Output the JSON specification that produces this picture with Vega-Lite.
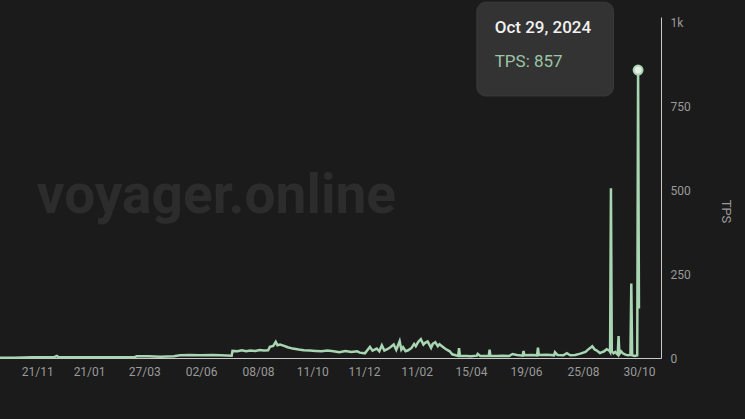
{
  "$schema": "https://vega.github.io/schema/vega-lite/v6.json",
  "width": 661,
  "height": 341,
  "autosize": {"type": "none"},
  "padding": {"left": 0, "top": 17, "right": 84, "bottom": 61},
  "background": "#1b1b1b",
  "config": {"view": {"stroke": null}, "font": "Roboto"},
  "datasets": {
    "series": [
      {"date": "2022-10-08", "tps": 1},
      {"date": "2022-10-25", "tps": 1},
      {"date": "2022-11-15", "tps": 2},
      {"date": "2022-12-10", "tps": 2},
      {"date": "2022-12-14", "tps": 6},
      {"date": "2022-12-16", "tps": 2},
      {"date": "2023-01-15", "tps": 2},
      {"date": "2023-02-15", "tps": 2},
      {"date": "2023-03-15", "tps": 2},
      {"date": "2023-03-18", "tps": 5},
      {"date": "2023-04-01", "tps": 5},
      {"date": "2023-04-15", "tps": 4},
      {"date": "2023-05-01", "tps": 5},
      {"date": "2023-05-08", "tps": 8},
      {"date": "2023-05-20", "tps": 9},
      {"date": "2023-06-01", "tps": 8},
      {"date": "2023-06-15", "tps": 9},
      {"date": "2023-06-25", "tps": 8},
      {"date": "2023-07-08", "tps": 7},
      {"date": "2023-07-09", "tps": 21},
      {"date": "2023-07-15", "tps": 20},
      {"date": "2023-07-20", "tps": 23},
      {"date": "2023-07-25", "tps": 20},
      {"date": "2023-07-30", "tps": 22},
      {"date": "2023-08-05", "tps": 21},
      {"date": "2023-08-10", "tps": 24},
      {"date": "2023-08-15", "tps": 22},
      {"date": "2023-08-20", "tps": 23},
      {"date": "2023-08-22", "tps": 33},
      {"date": "2023-08-26", "tps": 36},
      {"date": "2023-08-29", "tps": 48},
      {"date": "2023-08-31", "tps": 38},
      {"date": "2023-09-03", "tps": 40},
      {"date": "2023-09-07", "tps": 37},
      {"date": "2023-09-12", "tps": 32},
      {"date": "2023-09-18", "tps": 28},
      {"date": "2023-09-25", "tps": 25},
      {"date": "2023-10-01", "tps": 23},
      {"date": "2023-10-08", "tps": 22},
      {"date": "2023-10-15", "tps": 21},
      {"date": "2023-10-22", "tps": 20},
      {"date": "2023-10-29", "tps": 22},
      {"date": "2023-11-05", "tps": 20},
      {"date": "2023-11-12", "tps": 17},
      {"date": "2023-11-19", "tps": 21},
      {"date": "2023-11-26", "tps": 18},
      {"date": "2023-12-03", "tps": 20},
      {"date": "2023-12-06", "tps": 16},
      {"date": "2023-12-12", "tps": 14},
      {"date": "2023-12-18", "tps": 33},
      {"date": "2023-12-21", "tps": 22},
      {"date": "2023-12-26", "tps": 28},
      {"date": "2023-12-29", "tps": 20},
      {"date": "2024-01-01", "tps": 38},
      {"date": "2024-01-04", "tps": 22},
      {"date": "2024-01-08", "tps": 27},
      {"date": "2024-01-11", "tps": 32},
      {"date": "2024-01-15", "tps": 40},
      {"date": "2024-01-18", "tps": 24},
      {"date": "2024-01-22", "tps": 50},
      {"date": "2024-01-24", "tps": 25},
      {"date": "2024-01-26", "tps": 32},
      {"date": "2024-01-29", "tps": 20},
      {"date": "2024-02-01", "tps": 23},
      {"date": "2024-02-05", "tps": 30},
      {"date": "2024-02-08", "tps": 42},
      {"date": "2024-02-10", "tps": 35},
      {"date": "2024-02-13", "tps": 48},
      {"date": "2024-02-16", "tps": 56},
      {"date": "2024-02-19", "tps": 40},
      {"date": "2024-02-21", "tps": 45},
      {"date": "2024-02-24", "tps": 49},
      {"date": "2024-02-28", "tps": 30},
      {"date": "2024-03-01", "tps": 42},
      {"date": "2024-03-04", "tps": 47},
      {"date": "2024-03-07", "tps": 35},
      {"date": "2024-03-09", "tps": 41},
      {"date": "2024-03-13", "tps": 33},
      {"date": "2024-03-15", "tps": 29},
      {"date": "2024-03-18", "tps": 24},
      {"date": "2024-03-21", "tps": 20},
      {"date": "2024-03-24", "tps": 11},
      {"date": "2024-03-28", "tps": 8},
      {"date": "2024-03-31", "tps": 6},
      {"date": "2024-04-01", "tps": 29},
      {"date": "2024-04-02", "tps": 6},
      {"date": "2024-04-10", "tps": 6},
      {"date": "2024-04-15", "tps": 5},
      {"date": "2024-04-22", "tps": 7},
      {"date": "2024-04-23", "tps": 12},
      {"date": "2024-04-26", "tps": 6},
      {"date": "2024-05-06", "tps": 6},
      {"date": "2024-05-07", "tps": 25},
      {"date": "2024-05-08", "tps": 6},
      {"date": "2024-05-15", "tps": 6},
      {"date": "2024-05-22", "tps": 7},
      {"date": "2024-05-30", "tps": 6},
      {"date": "2024-06-03", "tps": 12},
      {"date": "2024-06-08", "tps": 9},
      {"date": "2024-06-15", "tps": 7},
      {"date": "2024-06-16", "tps": 21},
      {"date": "2024-06-17", "tps": 8},
      {"date": "2024-06-25", "tps": 9},
      {"date": "2024-07-02", "tps": 8},
      {"date": "2024-07-03", "tps": 31},
      {"date": "2024-07-04", "tps": 9},
      {"date": "2024-07-14", "tps": 10},
      {"date": "2024-07-22", "tps": 8},
      {"date": "2024-07-23", "tps": 17},
      {"date": "2024-07-26", "tps": 9},
      {"date": "2024-08-02", "tps": 8},
      {"date": "2024-08-06", "tps": 14},
      {"date": "2024-08-10", "tps": 8},
      {"date": "2024-08-16", "tps": 9},
      {"date": "2024-08-22", "tps": 13},
      {"date": "2024-08-28", "tps": 18},
      {"date": "2024-08-31", "tps": 25},
      {"date": "2024-09-05", "tps": 35},
      {"date": "2024-09-08", "tps": 25},
      {"date": "2024-09-10", "tps": 23},
      {"date": "2024-09-14", "tps": 15},
      {"date": "2024-09-16", "tps": 17},
      {"date": "2024-09-19", "tps": 20},
      {"date": "2024-09-22", "tps": 26},
      {"date": "2024-09-25", "tps": 22},
      {"date": "2024-09-26", "tps": 18},
      {"date": "2024-09-27", "tps": 505},
      {"date": "2024-09-28", "tps": 20},
      {"date": "2024-09-30", "tps": 14},
      {"date": "2024-10-02", "tps": 18},
      {"date": "2024-10-04", "tps": 12},
      {"date": "2024-10-05", "tps": 10},
      {"date": "2024-10-06", "tps": 65},
      {"date": "2024-10-07", "tps": 12},
      {"date": "2024-10-09", "tps": 20},
      {"date": "2024-10-11", "tps": 14},
      {"date": "2024-10-14", "tps": 10},
      {"date": "2024-10-17", "tps": 8},
      {"date": "2024-10-20", "tps": 9},
      {"date": "2024-10-21", "tps": 222},
      {"date": "2024-10-22", "tps": 8},
      {"date": "2024-10-25", "tps": 6},
      {"date": "2024-10-28", "tps": 8},
      {"date": "2024-10-29", "tps": 857},
      {"date": "2024-10-30", "tps": 147}
    ]
  },
  "layer": [
    {
      "data": {"name": "series"},
      "mark": {"type": "line", "color": "#a8d5b2", "strokeWidth": 2.5, "clip": false},
      "encoding": {
        "x": {
          "field": "date", "type": "temporal",
          "scale": {"type": "utc", "domain": [{"year": 2022, "month": 10, "date": 8, "utc": true}, {"year": 2024, "month": 11, "date": 25, "utc": true}]},
          "axis": {
            "title": null, "grid": false, "ticks": false, "format": "%d/%m",
            "values": [
              {"year": 2022, "month": 11, "date": 21, "utc": true},
              {"year": 2023, "month": 1, "date": 21, "utc": true},
              {"year": 2023, "month": 3, "date": 27, "utc": true},
              {"year": 2023, "month": 6, "date": 2, "utc": true},
              {"year": 2023, "month": 8, "date": 8, "utc": true},
              {"year": 2023, "month": 10, "date": 11, "utc": true},
              {"year": 2023, "month": 12, "date": 11, "utc": true},
              {"year": 2024, "month": 2, "date": 11, "utc": true},
              {"year": 2024, "month": 4, "date": 15, "utc": true},
              {"year": 2024, "month": 6, "date": 19, "utc": true},
              {"year": 2024, "month": 8, "date": 25, "utc": true},
              {"year": 2024, "month": 10, "date": 30, "utc": true}
            ],
            "domainColor": "#c9c9c9", "domainWidth": 1,
            "labelColor": "#9a9a9a", "labelFontSize": 12, "labelPadding": 8, "labelFont": "Roboto"
          }
        },
        "y": {
          "field": "tps", "type": "quantitative",
          "scale": {"domain": [0, 1015], "nice": false},
          "axis": {
            "orient": "right", "title": "TPS", "grid": false, "ticks": false, "format": "d",
            "labelExpr": "datum.value >= 1000 ? '1k' : datum.label",
            "values": [0, 250, 500, 750, 1000],
            "domainColor": "#c9c9c9", "domainWidth": 1,
            "labelColor": "#9a9a9a", "labelFontSize": 12, "labelPadding": 9, "labelFont": "Roboto",
            "titleColor": "#9a9a9a", "titleFontSize": 13, "titleFontWeight": "normal", "titleFont": "Roboto",
            "titleAngle": 90, "titleX": 64, "titleY": 194, "titleAlign": "center", "titleBaseline": "middle"
          }
        }
      }
    },
    {
      "data": {"values": [{"label": "voyager.online"}]},
      "mark": {"type": "text", "font": "Roboto", "fontSize": 55, "fontWeight": "bold", "color": "#2c2c2c", "align": "center", "baseline": "alphabetic"},
      "encoding": {
        "x": {"datum": {"year": 2023, "month": 6, "date": 20, "utc": true}, "type": "temporal", "scale": {"type": "utc"}},
        "y": {"datum": 431, "type": "quantitative"},
        "text": {"field": "label"}
      }
    },
    {
      "data": {"name": "series"},
      "transform": [{"filter": "datum.tps === 857"}],
      "mark": {"type": "point", "filled": true, "size": 80, "fill": "#e8ece8", "stroke": "#a8d5b2", "strokeWidth": 2, "opacity": 1},
      "encoding": {
        "x": {"field": "date", "type": "temporal", "scale": {"type": "utc"}},
        "y": {"field": "tps", "type": "quantitative"}
      }
    },
    {
      "data": {"values": [{"box": "tooltip"}]},
      "mark": {"type": "rect", "fill": "#333333", "stroke": "#3a3a3a", "strokeWidth": 1, "cornerRadius": 9, "clip": false},
      "encoding": {
        "x": {"datum": {"year": 2024, "month": 4, "date": 22, "utc": true}, "type": "temporal", "scale": {"type": "utc"}},
        "x2": {"datum": {"year": 2024, "month": 9, "date": 30, "utc": true}},
        "y": {"datum": 1059, "type": "quantitative"},
        "y2": {"datum": 780}
      }
    },
    {
      "data": {"values": [{"label": "Oct 29, 2024"}]},
      "mark": {"type": "text", "font": "Roboto", "fontSize": 17, "fontWeight": 500, "color": "#f2f2f2", "align": "left", "baseline": "middle"},
      "encoding": {
        "x": {"datum": {"year": 2024, "month": 5, "date": 13, "utc": true}, "type": "temporal", "scale": {"type": "utc"}},
        "y": {"datum": 982, "type": "quantitative"},
        "text": {"field": "label"}
      }
    },
    {
      "data": {"values": [{"label": "TPS: 857"}]},
      "mark": {"type": "text", "font": "Roboto", "fontSize": 17, "color": "#9cc4a6", "align": "left", "baseline": "middle"},
      "encoding": {
        "x": {"datum": {"year": 2024, "month": 5, "date": 13, "utc": true}, "type": "temporal", "scale": {"type": "utc"}},
        "y": {"datum": 881, "type": "quantitative"},
        "text": {"field": "label"}
      }
    }
  ]
}
